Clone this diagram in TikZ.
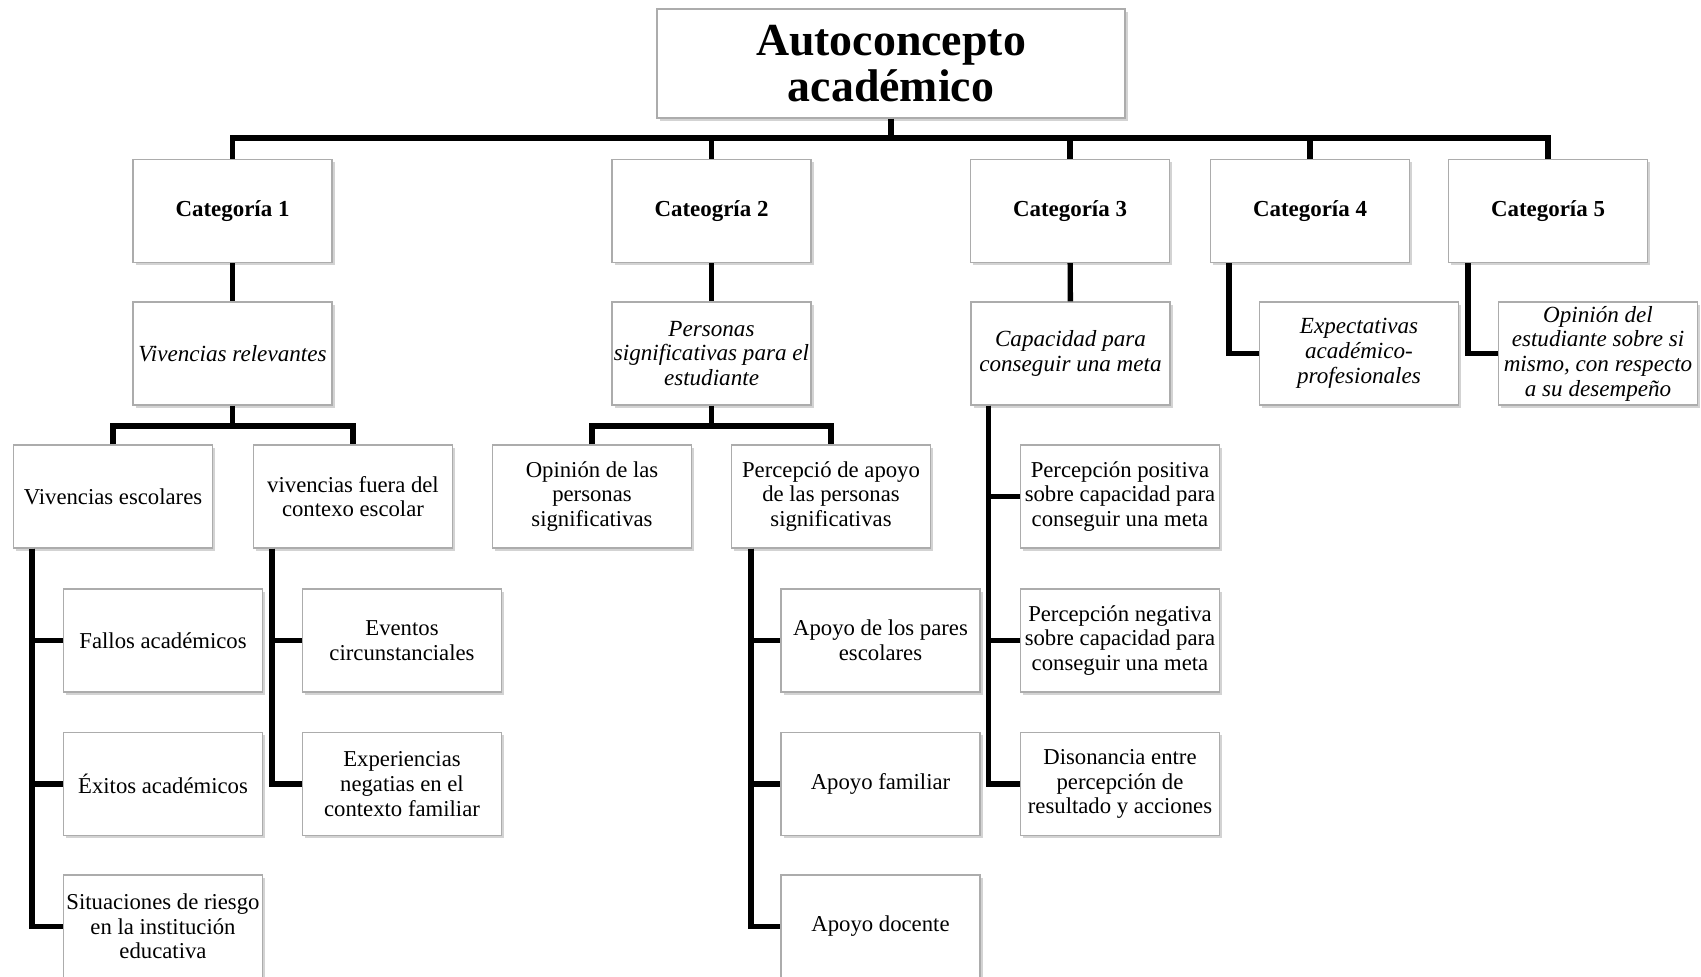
\documentclass[tikz,border=0pt]{standalone}
\usepackage{fontspec}
\setmainfont{Liberation Serif}
\usetikzlibrary{shadows}
\tikzset{
  box/.style={draw=gray!65,line width=0.6pt,fill=white,align=center,
    minimum width=99.5bp,minimum height=51.5bp,inner sep=0pt,
    font=\fontsize{11.4}{12.4}\selectfont,
    drop shadow={shadow xshift=1.4pt,shadow yshift=-1.4pt,opacity=0.35}},
  catbox/.style={box,font=\fontsize{11.5}{12.4}\selectfont\bfseries},
  subbox/.style={box,font=\fontsize{11.6}{12.4}\selectfont\itshape},
  link/.style={black,line width=2.7bp},
}
\begin{document}
\begin{tikzpicture}[line join=miter]
\useasboundingbox (0bp,0bp) rectangle (850.5bp,488.5bp);
%%
\node (node_root) at (445.5bp,456.75bp) [box,minimum width=234bp,minimum height=54.5bp,font=\fontsize{23}{23}\selectfont\bfseries] {Autoconcepto\\acad\'emico};
  \node (node_cat1) at (116.25bp,383bp) [catbox] {Categoría 1};
  \node (node_cat2) at (355.75bp,383bp) [catbox] {Cateogría 2};
  \node (node_cat3) at (535bp,383bp) [catbox] {Categoría 3};
  \node (node_cat4) at (655bp,383bp) [catbox] {Categoría 4};
  \node (node_cat5) at (774bp,383bp) [catbox] {Categoría 5};
  \node (node_viv) at (116.25bp,311.75bp) [subbox] {Vivencias relevantes};
  \node (node_pers) at (355.75bp,311.75bp) [subbox] {Personas\\significativas para el\\estudiante};
  \node (node_capac) at (535.25bp,311.75bp) [subbox] {Capacidad para\\conseguir una meta};
  \node (node_expect) at (679.5bp,311.75bp) [subbox] {Expectativas\\académico-\\profesionales};
  \node (node_opinion) at (799bp,311.75bp) [subbox] {Opinión del\\estudiante sobre si\\mismo, con respecto\\a su desempeño};
  \node (node_esc) at (56.5bp,240.25bp) [box] {Vivencias escolares};
  \node (node_fuera) at (176.5bp,240.25bp) [box] {vivencias fuera del\\contexo escolar};
  \node (node_opin) at (296bp,240.25bp) [box] {Opinión de las\\personas\\significativas};
  \node (node_percep) at (415.5bp,240.25bp) [box] {Percepció de apoyo\\de las personas\\significativas};
  \node (node_posit) at (560bp,240.25bp) [box] {Percepción positiva\\sobre capacidad para\\conseguir una meta};
  \node (node_fallos) at (81.5bp,168.25bp) [box] {Fallos académicos};
  \node (node_eventos) at (201bp,168.25bp) [box] {Eventos\\circunstanciales};
  \node (node_pares) at (440.25bp,168.25bp) [box] {Apoyo de los pares\\escolares};
  \node (node_negat) at (560bp,168.25bp) [box] {Percepción negativa\\sobre capacidad para\\conseguir una meta};
  \node (node_exitos) at (81.5bp,96.5bp) [box] {Éxitos académicos};
  \node (node_exper) at (201bp,96.5bp) [box] {Experiencias\\negatias en el\\contexto familiar};
  \node (node_familiar) at (440.25bp,96.5bp) [box] {Apoyo familiar};
  \node (node_disonan) at (560bp,96.5bp) [box] {Disonancia entre\\percepción de\\resultado y acciones};
  \node (node_situac) at (81.5bp,25.25bp) [box] {Situaciones de riesgo\\en la institución\\educativa};
  \node (node_docente) at (440.25bp,25.25bp) [box] {Apoyo docente};
  \coordinate (bus_top) at (0bp,419.5bp);
  \coordinate (bus_low) at (0bp,275.5bp);
%
  \draw [link] (node_root.south) -- (node_root.south |- bus_top);
  \draw [link] (node_cat1.north) |- (node_cat5.north |- bus_top) -- (node_cat5.north);
  \foreach \c in {2,3,4}
    \draw [link] (node_cat\c.north) -- (node_cat\c.north |- bus_top);
  \draw [link] (node_cat1) -- (node_viv);
  \draw [link] (node_cat2) -- (node_pers);
  \draw [link] (node_cat3) -- (node_capac);
  \draw [link] (node_cat4.south west) ++(9.5bp,0) |- (node_expect.west);
  \draw [link] (node_cat5.south west) ++(10bp,0) |- (node_opinion.west);
  \draw [link] (node_viv.south) -- (node_viv.south |- bus_low);
  \draw [link] (node_esc.north) |- (node_fuera.north |- bus_low) -- (node_fuera.north);
  \draw [link] (node_pers.south) -- (node_pers.south |- bus_low);
  \draw [link] (node_opin.north) |- (node_percep.north |- bus_low) -- (node_percep.north);
  \foreach \n in {fallos,exitos,situac}
    \draw [link] (node_esc.south west) ++(9.5bp,0) |- (node_\n.west);
  \foreach \n in {eventos,exper}
    \draw [link] (node_fuera.south west) ++(9.5bp,0) |- (node_\n.west);
  \foreach \n in {pares,familiar,docente}
    \draw [link] (node_percep.south west) ++(10bp,0) |- (node_\n.west);
  \foreach \n in {posit,negat,disonan}
    \draw [link] (node_capac.south west) ++(9bp,0) |- (node_\n.west);
%
\end{tikzpicture}
\end{document}
